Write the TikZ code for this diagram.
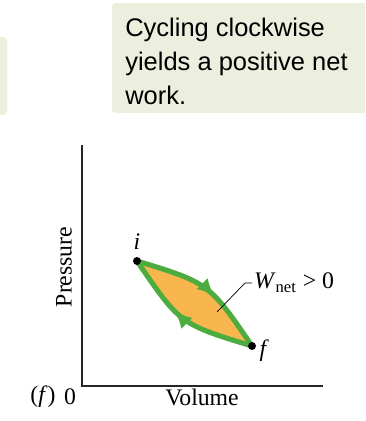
\documentclass[tikz,border=0pt]{standalone}
\usepackage{fontspec}
\setmainfont{Liberation Serif}
\newfontfamily\notefont{Liberation Sans}
\usetikzlibrary{arrows.meta,positioning,decorations.markings}
\definecolor{notebg}{RGB}{236,239,222}
\definecolor{cyclegreen}{RGB}{76,172,62}
\definecolor{cycleorange}{RGB}{250,182,78}

\begin{document}
\begin{tikzpicture}[
    x=0.02cm, y=-0.02cm,
    every node/.style={font=\fontsize{13.5}{16}\selectfont},
    note/.style={fill=notebg, rounded corners=2pt},
    notetext/.style={anchor=north west, inner sep=0pt, align=left,
        font=\notefont\fontsize{14.5}{19.3}\selectfont},
    axis/.style={line width=1.1pt, black!85},
    dot/.style={circle, fill=black, inner sep=0pt, minimum size=0.16cm},
    ptlabel/.style={inner sep=1pt, font=\itshape\fontsize{13.5}{16}\selectfont},
    cyclepath/.style={draw=cyclegreen, line width=2.9pt, line join=round,
        postaction=decorate, decoration={markings,
        mark=at position 0.58 with {\arrow[cyclegreen]{Latex[length=10pt,width=9pt]}}}}
    ]
    \clip (0,0) rectangle (365,421);
    \useasboundingbox (0,0) rectangle (365,421);
    % Note boxes
    \fill[note] (-10,37) rectangle (7,115);
    \fill[note] (112,3) rectangle (375,113);
    \node[notetext] (note) at (125,18) {Cycling clockwise\\yields a positive net\\work.};
    % Axes
    \coordinate (origin) at (82,386);
    \coordinate (ytop) at (82,145);
    \coordinate (xend) at (323,386);
    \draw[axis] (ytop) -- (origin) -- (xend);
    \node[rotate=90] (ylabel) at (64,267) {Pressure};
    \node (xlabel) at (202,397) {Volume};
    \node (zero) at (70,397) {0};
    \node (panel) at (43,397) {(\textit{f})};
    % Cycle
    \coordinate (pi) at (137,261);
    \coordinate (pf) at (252,346);
    \fill[cycleorange] (pi) .. controls (209,283) .. (pf) .. controls (180,324) .. (pi) -- cycle;
    \draw[cyclepath] (pi) .. controls (209,283) .. (pf);
    \draw[cyclepath] (pf) .. controls (180,324) .. (pi);
    \node[dot] (idot) at (pi) {};
    \node[dot] (fdot) at (pf) {};
    \node[ptlabel, above=0.1cm of idot] (ilabel) {i};
    \node[ptlabel] (flabel) at (263,351) {f};
    % Net work label
    \coordinate (wtip) at (217,312);
    \node[anchor=west, inner sep=1pt] (wlabel) at (252,283) {\textit{W}\textsubscript{net} > 0};
    \draw[line width=0.4pt] (wtip) -- ++(28,-29) -- (wlabel.west);
\end{tikzpicture}
\end{document}
